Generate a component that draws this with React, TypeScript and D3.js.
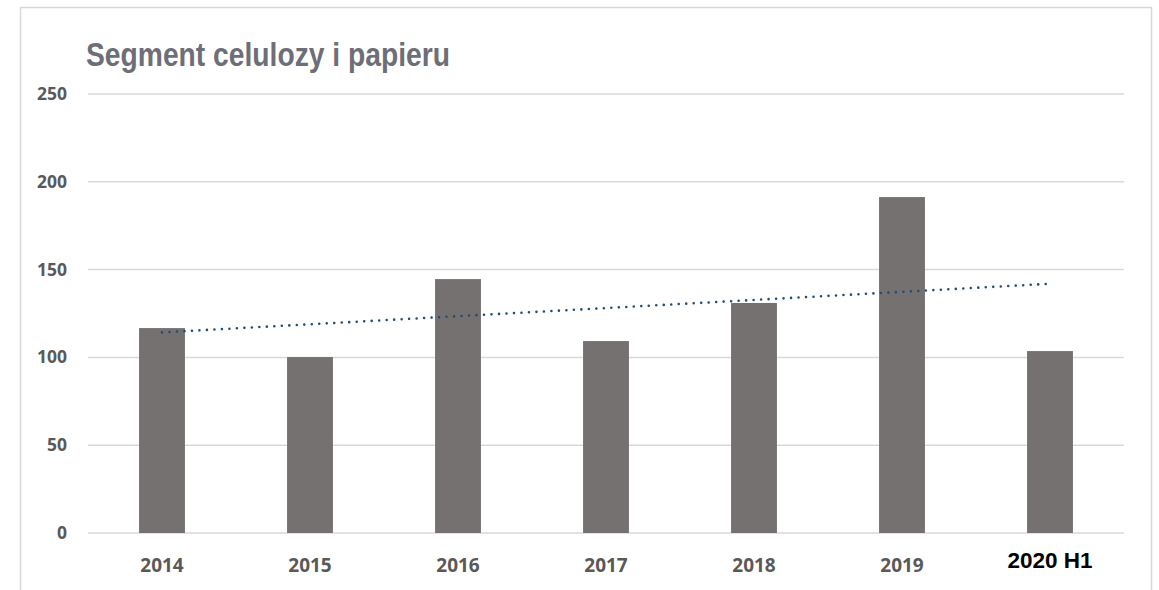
import React, { useEffect, useRef } from 'react';
import * as d3 from 'd3';

const categories = ['2014', '2015', '2016', '2017', '2018', '2019', '2020 H1'];
const values = [116.7, 100.2, 144.6, 109.3, 131, 191.3, 103.6];
const yTicks = [0, 50, 100, 150, 200, 250];
const title = 'Segment celulozy i papieru';

export default function App() {
  const ref = useRef<SVGSVGElement>(null);
  const width = 1159;
  const height = 590;
  const margin = { left: 88, right: 35, top: 94, bottom: 57 };

  useEffect(() => {
    const svg = d3.select(ref.current);
    svg.selectAll('*').remove();

    // outer frame of the chart area (only left, top, right visible)
    svg
      .append('path')
      .attr('d', `M20.5,${height} V7.5 H1151.5 V${height}`)
      .attr('fill', 'none')
      .attr('stroke', '#d9d9d9')
      .attr('stroke-width', 1.5);

    const x = d3
      .scaleBand()
      .domain(categories)
      .range([margin.left, width - margin.right])
      .paddingInner(0.69)
      .paddingOuter(0.345);

    const y = d3
      .scaleLinear()
      .domain([0, 250])
      .range([height - margin.bottom, margin.top]);

    // gridlines
    svg
      .append('g')
      .selectAll('line')
      .data(yTicks)
      .enter()
      .append('line')
      .attr('x1', margin.left)
      .attr('x2', width - margin.right)
      .attr('y1', (d) => y(d))
      .attr('y2', (d) => y(d))
      .attr('stroke', '#d9d9d9')
      .attr('stroke-width', 1.5);

    // y labels
    svg
      .append('g')
      .selectAll('text')
      .data(yTicks)
      .enter()
      .append('text')
      .attr('x', 67)
      .attr('y', (d) => y(d) + 6)
      .attr('text-anchor', 'end')
      .attr('font-family', 'Open Sans, sans-serif')
      .attr('font-weight', 'bold')
      .attr('font-size', 17.5)
      .attr('fill', '#595959')
      .text((d) => d);

    // bars
    svg
      .append('g')
      .selectAll('rect')
      .data(values)
      .enter()
      .append('rect')
      .attr('x', (d, i) => x(categories[i]) as number)
      .attr('width', x.bandwidth())
      .attr('y', (d) => y(d))
      .attr('height', (d) => y(0) - y(d))
      .attr('fill', '#767171');

    // x labels
    svg
      .append('g')
      .selectAll('text')
      .data(categories)
      .enter()
      .append('text')
      .attr('x', (d) => (x(d) as number) + x.bandwidth() / 2)
      .attr('y', (d) => (d === '2020 H1' ? 568 : 572))
      .attr('text-anchor', 'middle')
      .attr('font-family', (d) =>
        d === '2020 H1' ? 'Liberation Sans, Arial, sans-serif' : 'Open Sans, sans-serif'
      )
      .attr('font-weight', 'bold')
      .attr('font-size', (d) => (d === '2020 H1' ? 22.5 : 19))
      .attr('fill', (d) => (d === '2020 H1' ? '#000000' : '#595959'))
      .text((d) => d);

    // linear trend line (least squares over the bars)
    const n = values.length;
    const mx = d3.mean(d3.range(n)) as number;
    const my = d3.mean(values) as number;
    let sxy = 0;
    let sxx = 0;
    values.forEach((v, i) => {
      sxy += (i - mx) * (v - my);
      sxx += (i - mx) * (i - mx);
    });
    const slope = sxy / sxx;
    const intercept = my - slope * mx;
    const trend = d3.range(n).map((i) => [i, intercept + slope * i]);
    const line = d3
      .line<number[]>()
      .x((d) => (x(categories[d[0]]) as number) + x.bandwidth() / 2)
      .y((d) => y(d[1]));
    svg
      .append('path')
      .attr('d', line([trend[0], trend[n - 1]]))
      .attr('fill', 'none')
      .attr('stroke', '#1f4e79')
      .attr('stroke-width', 2.6)
      .attr('stroke-linecap', 'round')
      .attr('stroke-dasharray', '0 7.5');

    // title (narrow, tall lettering)
    svg
      .append('text')
      .attr('x', 86)
      .attr('y', 66)
      .attr('font-family', 'Liberation Sans, Arial, sans-serif')
      .attr('font-weight', 'bold')
      .attr('font-size', 34)
      .attr('textLength', 364)
      .attr('lengthAdjust', 'spacingAndGlyphs')
      .attr('fill', '#6e6e78')
      .text(title);
  }, []);

  return (
    <svg
      ref={ref}
      width={width}
      height={height}
      style={{ position: 'absolute', left: 0, top: 0, background: '#ffffff' }}
    />
  );
}
